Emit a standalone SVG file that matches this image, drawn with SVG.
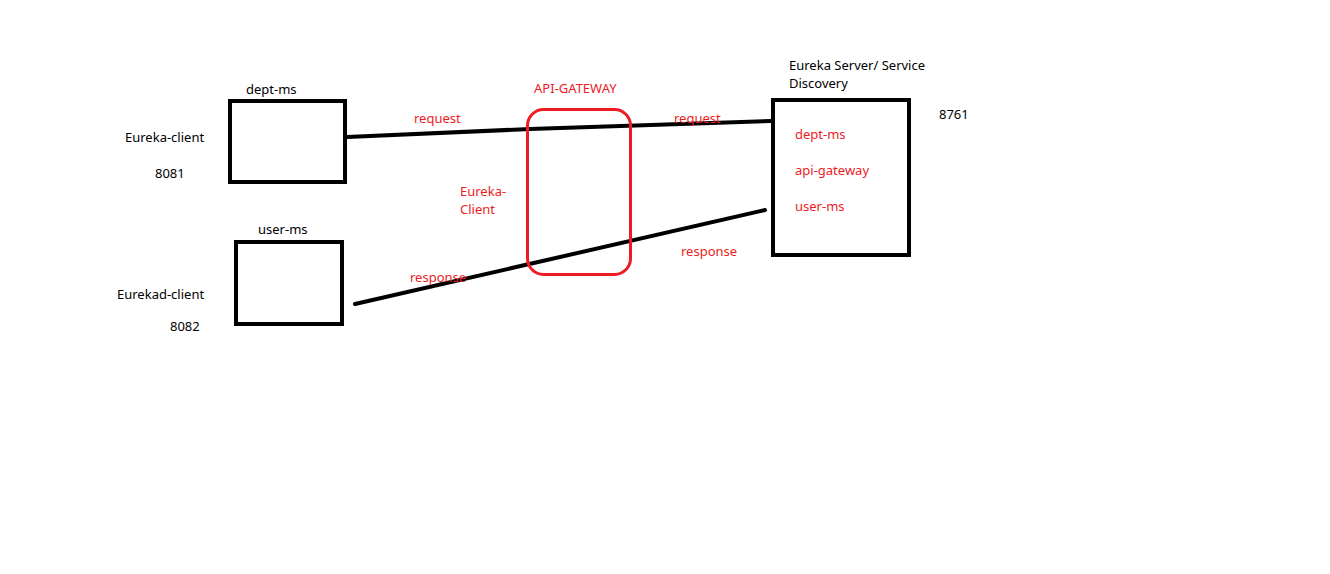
<svg xmlns="http://www.w3.org/2000/svg" width="1330" height="574" viewBox="0 0 1330 574">
<style>
text{font-family:"Segoe UI","Noto Sans","Open Sans",sans-serif;font-size:13px;fill:#000}
.r{fill:#ed1c24}
.box{fill:none;stroke:#000;stroke-width:4}
.line{fill:none;stroke:#000;stroke-width:4;stroke-linecap:round}
</style>
<rect width="1330" height="574" fill="#fff"/>
<g id="connectors">
<polyline class="line" points="347,137 530,129 771,121"/>
<polyline class="line" points="355,304 765,210"/>
</g>
<g id="dept-ms">
<rect class="box" x="230" y="101" width="115" height="81"/>
<text x="246" y="94">dept-ms</text>
<text x="125" y="142">Eureka-client</text>
<text x="155" y="178">8081</text>
</g>
<g id="user-ms">
<rect class="box" x="236" y="242" width="106" height="82"/>
<text x="258" y="234">user-ms</text>
<text x="117" y="299">Eurekad-client</text>
<text x="170" y="331">8082</text>
</g>
<g id="api-gateway">
<rect x="527.5" y="109.5" width="103" height="165" rx="16" fill="none" stroke="#ed1c24" stroke-width="3"/>
<text class="r" x="534" y="93">API-GATEWAY</text>
<text class="r" x="460" y="196">Eureka-</text>
<text class="r" x="460" y="214">Client</text>
</g>
<g id="eureka-server">
<rect class="box" x="773" y="100" width="136" height="155"/>
<text x="789" y="70">Eureka Server/ Service</text>
<text x="789" y="88">Discovery</text>
<text x="939" y="119">8761</text>
<text class="r" x="795" y="139">dept-ms</text>
<text class="r" x="795" y="175">api-gateway</text>
<text class="r" x="795" y="211">user-ms</text>
</g>
<g id="labels">
<text class="r" x="414" y="123">request</text>
<text class="r" x="674" y="123">request</text>
<text class="r" x="410" y="282">response</text>
<text class="r" x="681" y="256">response</text>
</g>
</svg>
